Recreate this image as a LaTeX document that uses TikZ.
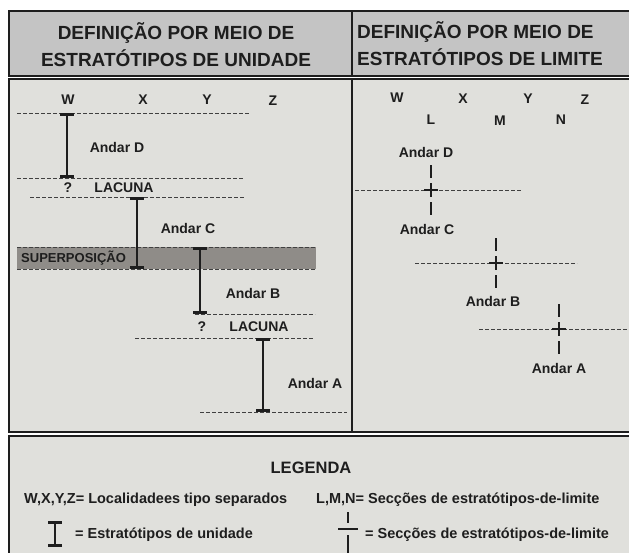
\documentclass[tikz,border=0pt]{standalone}
\usepackage{fontspec}
\setmainfont{Liberation Sans}
\usetikzlibrary{arrows.meta}
\usetikzlibrary{positioning}
\definecolor{cabgray}{HTML}{C4C4C4}
\definecolor{panelgray}{HTML}{E0E0DC}
\definecolor{supgray}{HTML}{8F8C88}
\definecolor{ink}{HTML}{1E1E1E}
\tikzset{
  lbl/.style={font=\fontsize{14}{16}\selectfont\bfseries, text=ink, inner sep=0pt},
  cab/.style={font=\fontsize{19}{27}\selectfont\bfseries, text=ink, inner sep=0pt, align=center},
  leg/.style={font=\fontsize{14.5}{16}\selectfont\bfseries, text=ink, inner sep=0pt, anchor=west},
  panel/.style={draw=ink, line width=2pt},
  bed/.style={draw=ink!85, line width=0.9pt, dash pattern=on 4pt off 2pt},
  unidade/.style={draw=ink, line width=2pt, {Bar[width=14pt,line width=3pt]}-{Bar[width=14pt,line width=3pt]}},
  limite/.pic={
    \draw[ink, line width=2.2pt, dash pattern=on 13pt off 5pt on 14pt off 5pt on 13pt] (0,-25) -- (0,25);
    \draw[ink, line width=2.2pt] (-7,0) -- (7,0);
  },
}
\begin{document}
\begin{tikzpicture}[x=1pt, y=-1pt]
  \useasboundingbox (0,0) rectangle (629,552);
  \fill[white] (0,0) rectangle (629,552);

  % caixas
  \draw[panel, fill=cabgray] (9,11) rectangle (645,76);
  \draw[panel, fill=panelgray] (9,79) rectangle (645,432);
  \draw[panel, fill=panelgray] (9,436) rectangle (645,570);
  \draw[panel] (352,11) -- (352,76);
  \draw[panel] (352,79) -- (352,432);

  \node[cab] (cab1) at (176,45) {DEFINIÇÃO POR MEIO DE\\ESTRATÓTIPOS DE UNIDADE};
  \node[cab, align=left, anchor=west] (cab2) at (357,44) {DEFINIÇÃO POR MEIO DE\\ESTRATÓTIPOS DE LIMITE};

  % estratotipos de unidade
  \fill[supgray] (17,247) rectangle (316,269);
  \node[lbl, font=\fontsize{13}{15}\selectfont\bfseries, anchor=west] (sup) at (21,258) {SUPERPOSIÇÃO};

  \foreach \y/\a/\b in {113/17/249, 178/17/244, 197/30/245, 247/17/316,
                        269/17/316, 314/195/315, 338/135/313, 412/200/347}
    \draw[bed] (\a,\y) -- (\b,\y);

  \node[lbl] (w1) at (68,100) {W};
  \node[lbl] (x1) at (143,100) {X};
  \node[lbl] (y1) at (207,100) {Y};
  \node[lbl] (z1) at (273,101) {Z};

  \coordinate (wt) at (67,113);
  \coordinate (wb) at (67,178);
  \coordinate (xt) at (137,197);
  \coordinate (xb) at (137,269);
  \coordinate (yt) at (200,247);
  \coordinate (yb) at (200,314);
  \coordinate (zt) at (263,338);
  \coordinate (zb) at (263,412);
  \draw[unidade] (wt) -- (wb);
  \draw[unidade] (xt) -- (xb);
  \draw[unidade] (yt) -- (yb);
  \draw[unidade] (zt) -- (zb);

  \node[lbl] (ad1) at (117,147) {Andar D};
  \node[lbl] (lac1) at (124,188) {LACUNA};
  \node[lbl] (q1) at (68,188) {?};
  \node[lbl] (ac1) at (188,228) {Andar C};
  \node[lbl] (ab1) at (253,293) {Andar B};
  \node[lbl] (lac2) at (259,327) {LACUNA};
  \node[lbl] (q2) at (202,327) {?};
  \node[lbl] (aa1) at (315,383) {Andar A};

  % estratotipos de limite
  \node[lbl] (w2) at (397,98) {W};
  \node[lbl] (x2) at (463,99) {X};
  \node[lbl] (y2) at (528,99) {Y};
  \node[lbl] (z2) at (585,100) {Z};
  \node[lbl] (l2) at (431,120) {L};
  \node[lbl] (m2) at (500,121) {M};
  \node[lbl] (n2) at (561,120) {N};

  \foreach \y/\a/\b in {190/355/522, 263/415/577, 329/479/640}
    \draw[bed] (\a,\y) -- (\b,\y);
  \pic at (431,190) {limite};
  \pic at (496,263) {limite};
  \pic at (559,329) {limite};

  \node[lbl] (ad2) at (426,152) {Andar D};
  \node[lbl] (ac2) at (427,229) {Andar C};
  \node[lbl] (ab2) at (493,301) {Andar B};
  \node[lbl] (aa2) at (559,368) {Andar A};

  % legenda
  \node[lbl, font=\fontsize{16.5}{18}\selectfont\bfseries] (legenda) at (311,468) {LEGENDA};
  \node[leg] (loc) at (24,500) {W,X,Y,Z= Localidadees tipo separados};
  \node[leg] (sec) at (316,500) {L,M,N= Secções de estratótipos-de-limite};
  \coordinate (it) at (55,521);
  \coordinate (ib) at (55,547);
  \draw[unidade] (it) -- (ib);
  \node[leg] (est) at (75,535) {= Estratótipos de unidade};
  \draw[ink, line width=2.2pt] (348,512) -- (348,523) (348,535) -- (348,556);
  \draw[ink, line width=2.2pt] (338,529) -- (358,529);
  \node[leg] (sec2) at (365,535) {= Secções de estratótipos-de-limite};
\end{tikzpicture}
\end{document}
